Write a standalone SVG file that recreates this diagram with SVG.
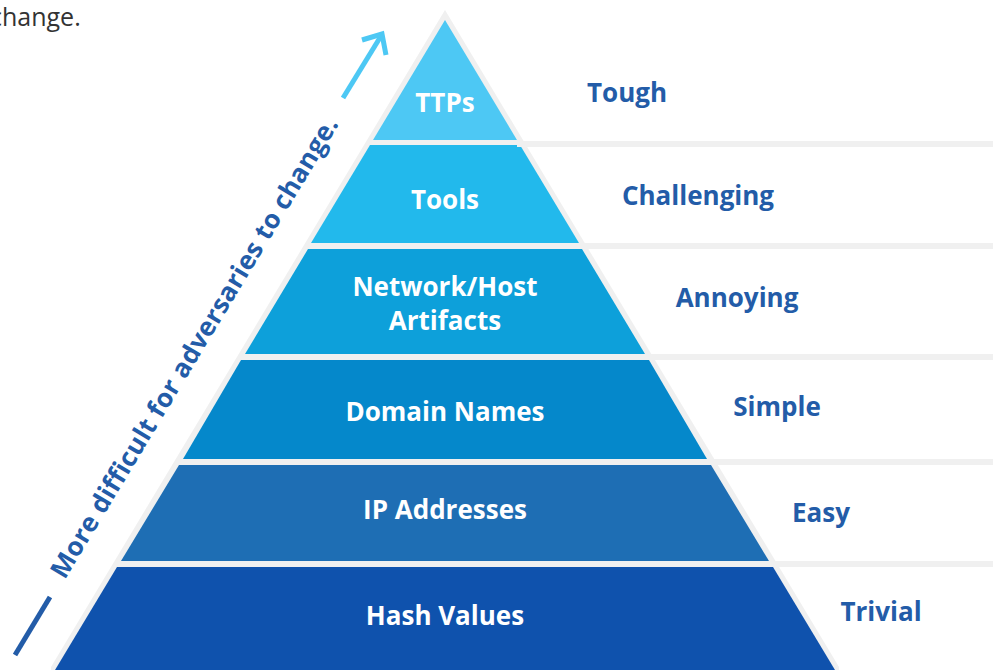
<svg xmlns="http://www.w3.org/2000/svg" width="993" height="670" viewBox="0 0 993 670">
<style>
.lvl{font-family:"Open Sans","Liberation Sans",sans-serif;font-weight:700;font-size:26px;fill:#ffffff;text-anchor:middle}
.lab{font-family:"Open Sans","Liberation Sans",sans-serif;font-weight:700;font-size:26px;fill:#235ca8;text-anchor:middle}
.sep{fill:#f0f0f0}
</style>
<rect width="993" height="670" fill="#ffffff"/>
<text x="-10" y="26" font-family="Open Sans, Liberation Sans, sans-serif" font-size="25" fill="#333333">change.</text>
<polygon points="445,10 51,667 51,670 839,670 839,667" fill="#f0f0f0"/>
<g id="ttps"><polygon points="445,20 373,140 517,140" fill="#4dc8f4"/><text class="lvl" x="445" y="112">TTPs</text></g>
<g id="tools"><polygon points="370,145 520,145 579,243 311,243" fill="#22b9ec"/><text class="lvl" x="445" y="209">Tools</text></g>
<g id="network"><polygon points="308,249 582,249 645,354 245,354" fill="#0da0da"/><text class="lvl" x="445" y="296">Network/Host</text><text class="lvl" x="445" y="330">Artifacts</text></g>
<g id="domain"><polygon points="241,360 649,360 707,459 183,459" fill="#0588cb"/><text class="lvl" x="445" y="421">Domain Names</text></g>
<g id="ip"><polygon points="179,465 711,465 769,561 121,561" fill="#1e6eb4"/><text class="lvl" x="445" y="519">IP Addresses</text></g>
<g id="hash"><polygon points="117,567 773,567 835,670 55,670" fill="#0f52ad"/><text class="lvl" x="445" y="625">Hash Values</text></g>
<g id="separators">
<rect class="sep" x="517" y="141" width="476" height="6"/>
<rect class="sep" x="579" y="243" width="414" height="6"/>
<rect class="sep" x="645" y="354" width="348" height="6"/>
<rect class="sep" x="707" y="459" width="286" height="6"/>
<rect class="sep" x="769" y="561" width="224" height="6"/>
</g>
<g id="labels">
<text class="lab" x="627" y="102">Tough</text>
<text class="lab" x="698" y="205">Challenging</text>
<text class="lab" x="737" y="307">Annoying</text>
<text class="lab" x="777" y="416">Simple</text>
<text class="lab" x="821" y="522">Easy</text>
<text class="lab" x="881" y="621">Trivial</text>
</g>
<g id="connectors" stroke-linecap="butt" fill="none">
<line x1="15" y1="655" x2="50" y2="597" stroke="#235ca8" stroke-width="5"/>
<line x1="343" y1="98" x2="381" y2="36" stroke="#4dc8f4" stroke-width="5"/>
<polyline points="362,40 382,34 386,55" stroke="#4dc8f4" stroke-width="5"/>
</g>
<text class="lab" font-size="26" transform="translate(202,352) rotate(-59)" x="0" y="0" letter-spacing="0.3">More difficult for adversaries to change.</text>
</svg>
